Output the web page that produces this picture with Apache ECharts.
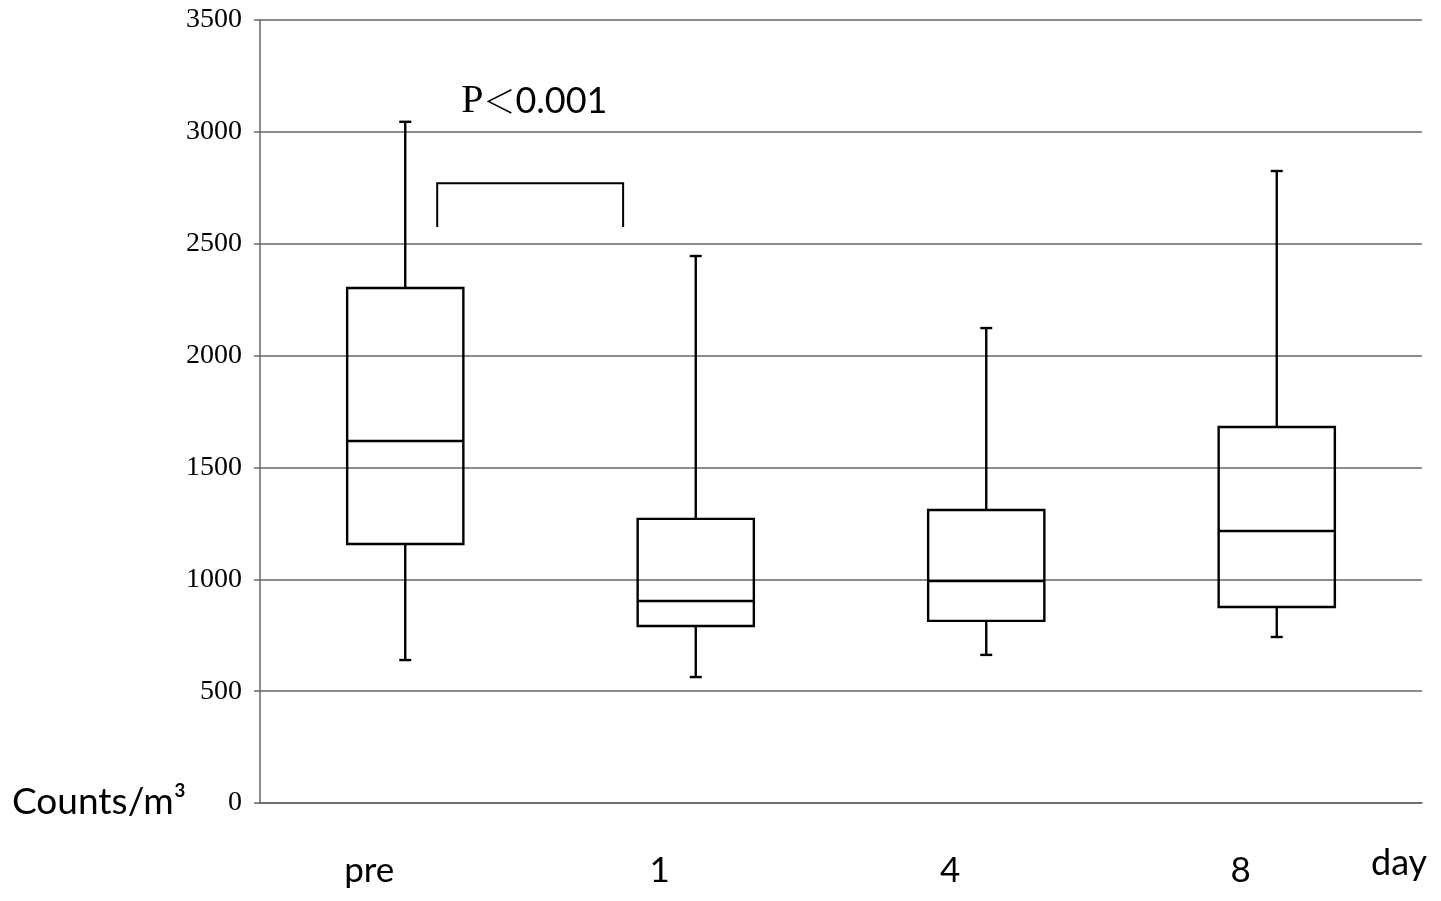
<!DOCTYPE html>
<html>
<head>
<meta charset="utf-8">
<script src="https://cdn.jsdelivr.net/npm/echarts@6/dist/echarts.min.js"></script>
<style>html,body{margin:0;padding:0;background:#fff}#c{width:1441px;height:901px}</style>
</head>
<body>
<div id="c"></div>
<script>
const categories = ['pre', '1', '4', '8'];
// [low whisker, Q1, median, Q3, high whisker]
const lowWhisker = [639, 563, 662, 742];
const q1 = [1158, 791, 814, 876];
const median = [1618, 903, 992, 1216];
const q3 = [2302, 1270, 1310, 1681];
const highWhisker = [3045, 2445, 2123, 2825];
const yTicks = [0, 500, 1000, 1500, 2000, 2500, 3000, 3500];
// significance bracket: [from category pos, to category pos, top value, leg bottom value]
const bracket = [[0.11, 0.75, 2770, 2575]];
const xName = 'day';
const yName = 'Counts/m³';

const boxData = categories.map((c, i) => [i, lowWhisker[i], q1[i], median[i], q3[i], highWhisker[i]]);

const chart = echarts.init(document.getElementById('c'));
const sans = 'Lato';
const serif = 'Liberation Serif';

chart.setOption({
  animation: false,
  backgroundColor: '#fff',
  grid: { left: 260, right: 19, top: 20, bottom: 98 },
  xAxis: {
    type: 'category',
    data: categories,
    boundaryGap: true,
    axisLine: { show: true, lineStyle: { color: '#666', width: 1.5 } },
    axisTick: { show: false },
    axisLabel: {
      margin: 50, color: '#000', fontFamily: sans, fontSize: 35,
      padding: [0, 72, 0, 0]
    },
    splitLine: { show: false }
  },
  yAxis: {
    type: 'value',
    min: yTicks[0], max: yTicks[yTicks.length - 1], interval: 500,
    axisLine: { show: true, lineStyle: { color: '#666', width: 1.5 } },
    axisTick: { show: true, length: 6, lineStyle: { color: '#666', width: 1.5 } },
    axisLabel: { margin: 18, color: '#000', fontFamily: serif, fontSize: 28, formatter: v => String(v) },
    splitLine: { show: true, lineStyle: { color: '#666', width: 1.5 } }
  },
  graphic: [
    { type: 'text', left: 12, top: 784, style: { text: yName, fontFamily: sans, fontSize: 37, fill: '#000' } },
    { type: 'text', left: 1371, top: 845, style: { text: xName, fontFamily: sans, fontSize: 36, fill: '#000' } }
  ],
  series: [
    {
      type: 'custom',
      data: boxData,
      encode: { x: 0, y: [1, 2, 3, 4, 5] },
      renderItem: function (params, api) {
        const idx = api.value(0);
        const band = api.size([1, 0])[0];
        const half = band * 0.2;
        const cap = 6;
        const pLow = api.coord([idx, api.value(1)]);
        const pQ1 = api.coord([idx, api.value(2)]);
        const pMed = api.coord([idx, api.value(3)]);
        const pQ3 = api.coord([idx, api.value(4)]);
        const pHigh = api.coord([idx, api.value(5)]);
        const x = pMed[0];
        const st = { stroke: '#000', lineWidth: 2.4, fill: null };
        return {
          type: 'group',
          children: [
            { type: 'line', shape: { x1: x, y1: pQ3[1], x2: x, y2: pHigh[1] }, style: st },
            { type: 'line', shape: { x1: x - cap, y1: pHigh[1], x2: x + cap, y2: pHigh[1] }, style: st },
            { type: 'line', shape: { x1: x, y1: pQ1[1], x2: x, y2: pLow[1] }, style: st },
            { type: 'line', shape: { x1: x - cap, y1: pLow[1], x2: x + cap, y2: pLow[1] }, style: st },
            { type: 'rect', shape: { x: x - half, y: pQ3[1], width: half * 2, height: pQ1[1] - pQ3[1] }, style: st },
            { type: 'line', shape: { x1: x - half, y1: pMed[1], x2: x + half, y2: pMed[1] }, style: st }
          ]
        };
      },
      z: 5
    },
    {
      type: 'custom',
      data: bracket,
      renderItem: function (params, api) {
        const band = api.size([1, 0])[0];
        const x0 = api.coord([0, api.value(2)]);
        const xa = x0[0] + api.value(0) * band;
        const xb = x0[0] + api.value(1) * band;
        const yTop = x0[1];
        const yBot = api.coord([0, api.value(3)])[1];
        const st = { stroke: '#000', lineWidth: 2, fill: null };
        return {
          type: 'group',
          children: [
            { type: 'polyline', shape: { points: [[xa, yBot], [xa, yTop], [xb, yTop], [xb, yBot]] }, style: st },
            {
              type: 'text', x: xa + 24, y: yTop - 82,
              style: {
                text: '{p|P}{lt|＜}{n|0.001}',
                verticalAlign: 'middle',
                rich: {
                  p: { fontFamily: serif, fontSize: 40, fill: '#000' },
                  lt: { fontFamily: 'Noto Sans CJK JP', fontSize: 32, fill: '#000', fontWeight: 300 },
                  n: { fontFamily: sans, fontSize: 36, fill: '#000' }
                }
              }
            }
          ]
        };
      },
      z: 5
    }
  ]
});
</script>
</body>
</html>
